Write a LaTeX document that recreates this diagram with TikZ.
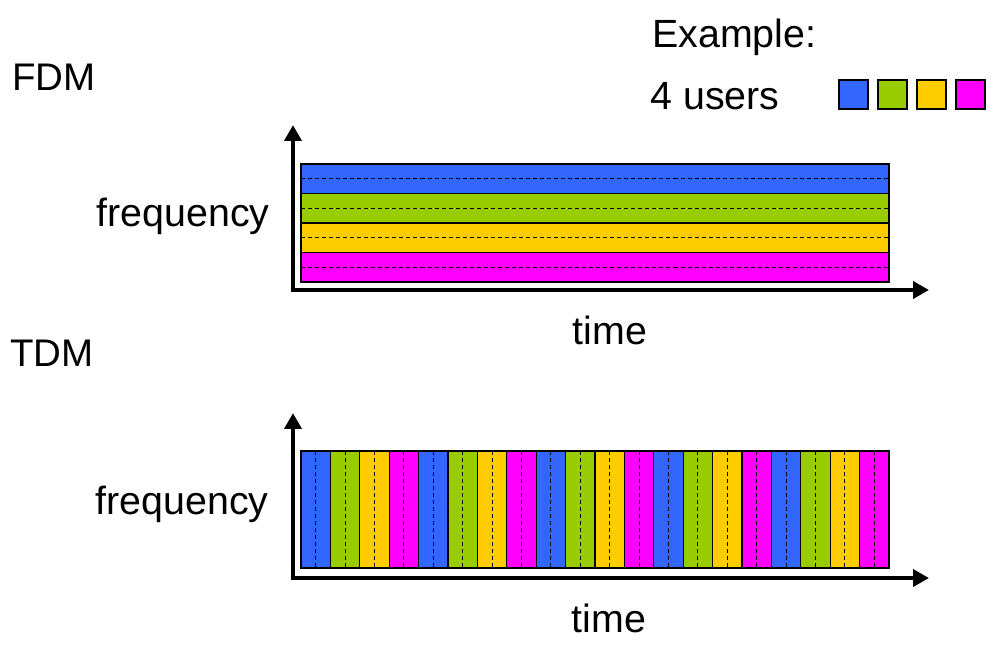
\documentclass[tikz,border=0pt]{standalone}
\usepackage{fontspec}
\setmainfont{Liberation Sans}
\usetikzlibrary{arrows.meta}
\definecolor{userblue}{RGB}{51,102,255}
\definecolor{usergreen}{RGB}{153,204,0}
\definecolor{useryellow}{RGB}{255,204,0}
\definecolor{usermagenta}{RGB}{255,0,255}

\begin{document}
\begin{tikzpicture}[x=0.02cm, y=-0.02cm]
	\tikzstyle{caption}=[font=\fontsize{22.4}{27}\selectfont, inner sep=0pt, anchor=base]
	\tikzstyle{title}=[caption, font=\fontsize{21.9}{26}\selectfont, anchor=base west]
	\tikzstyle{axis}=[line width=2.3pt, {Triangle[length=9pt, width=9.5pt]}-{Triangle[length=9pt, width=9.5pt]}]
	\tikzstyle{slot}=[draw=black, line width=0.6pt]
	\tikzstyle{mid}=[dashed, dash pattern=on 2.3pt off 1.7pt, line width=0.55pt]
	\useasboundingbox (0,0) rectangle (999,648);
	
	\node[title] at (12,91) (fdm) {FDM};
	\node[title] at (10,366) (tdm) {TDM};
	\node[caption, anchor=base west] at (652,48) (example) {Example:};
	\node[caption, anchor=base west] at (650,110) (users) {4 users};
	
	\foreach \c [count=\k from 0] in {userblue, usergreen, useryellow, usermagenta}
		\draw[slot, fill=\c] (839+39*\k,80) rectangle ++(29,29);
	
	\coordinate (fdmorigin) at (293,290);
	\coordinate (fdmtop) at (293,125);
	\coordinate (fdmright) at (929,290);
	\foreach \c [count=\j from 0] in {userblue, usergreen, useryellow, usermagenta} {
		\draw[slot, fill=\c] (301,164+29.5*\j) rectangle (889,193.5+29.5*\j);
		\draw[mid] (301,178.75+29.5*\j) -- (889,178.75+29.5*\j);
	}
	\draw[axis] (fdmtop) -- (fdmorigin) -- (fdmright);
	\node[caption, anchor=base east] at (270,227) (fdmfreq) {frequency};
	\node[caption] at (610,344) (fdmtime) {time};
	
	\coordinate (tdmorigin) at (293,578);
	\coordinate (tdmtop) at (293,413);
	\coordinate (tdmright) at (929,578);
	\foreach \i in {0,...,19} {
		\pgfmathtruncatemacro{\u}{mod(\i,4)}
		\ifcase\u \def\c{userblue}\or \def\c{usergreen}\or \def\c{useryellow}\else \def\c{usermagenta}\fi
		\draw[slot, fill=\c] (301+29.4*\i,451) rectangle (330.4+29.4*\i,568);
		\draw[mid] (315.7+29.4*\i,451) -- (315.7+29.4*\i,568);
	}
	\draw[axis] (tdmtop) -- (tdmorigin) -- (tdmright);
	\node[caption, anchor=base east] at (269,514) (tdmfreq) {frequency};
	\node[caption] at (609,632) (tdmtime) {time};
	
\end{tikzpicture}
\end{document}
